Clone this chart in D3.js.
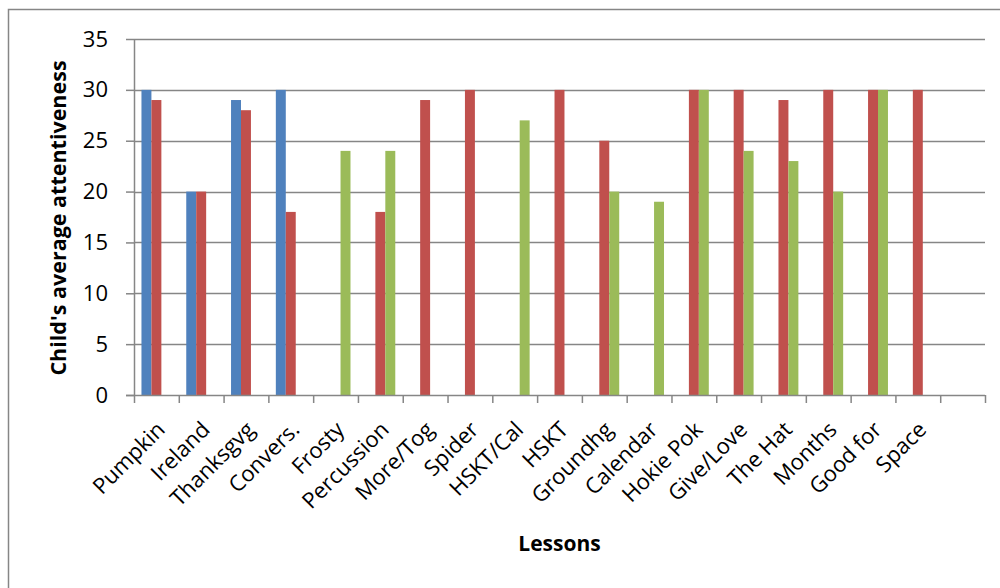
<!DOCTYPE html>
<html>
<head>
<meta charset="utf-8">
<script src="https://cdn.jsdelivr.net/npm/d3@7"></script>
<style>
  body { margin: 0; background: #fff; }
  svg { display: block; }
  text { font-family: "Open Sans", sans-serif; fill: #000; }
</style>
</head>
<body>
<div id="chart"></div>
<script>
var lessons = ["Pumpkin", "Ireland", "Thanksgvg", "Convers.", "Frosty", "Percussion", "More/Tog",
    "Spider", "HSKT/Cal", "HSKT", "Groundhg", "Calendar", "Hokie Pok", "Give/Love", "The Hat",
    "Months", "Good for", "Space", ""];
var seriesNames = ["Series1", "Series2", "Series3"];
var blueValues  = [30, 20, 29, 30, 0, 0, 0, 0, 0, 0, 0, 0, 0, 0, 0, 0, 0, 0, 0];
var redValues   = [29, 20, 28, 18, 0, 18, 29, 30, 0, 30, 25, 0, 30, 30, 29, 30, 30, 30, 0];
var greenValues = [0, 0, 0, 0, 24, 24, 0, 0, 27, 0, 20, 19, 30, 24, 23, 20, 30, 0, 0];
var yTicks = [0, 5, 10, 15, 20, 25, 30, 35];
var colors = ["#4F81BD", "#C0504D", "#9BBB59"];

var width = 1000, height = 588;
var margin = { top: 39, right: 15, bottom: 193, left: 134 },
    plotW = width - margin.left - margin.right,
    plotH = height - margin.top - margin.bottom;

var svg = d3.select("#chart")
    .append("svg")
    .attr("width", width)
    .attr("height", height);

// outer chart border
svg.append("rect")
    .attr("x", 8.5).attr("y", 9.5)
    .attr("width", 1000).attr("height", 600)
    .attr("fill", "none")
    .attr("stroke", "#868686")
    .attr("stroke-width", 1.5);

var g = svg.append("g")
    .attr("transform", "translate(" + margin.left + "," + margin.top + ")");

var x0 = d3.scaleBand().domain(d3.range(lessons.length)).range([0, plotW]).padding(0);
var x1 = d3.scaleBand().domain(seriesNames).range([0, x0.bandwidth()]).paddingInner(0).paddingOuter(0.75);
var y = d3.scaleLinear().domain([0, 35]).range([plotH, 0]);

// gridlines
g.append("g")
    .selectAll("line")
    .data(yTicks.slice(1))
    .enter().append("line")
    .attr("x1", 0).attr("x2", plotW)
    .attr("y1", function (d) { return Math.round(y(d)) + 0.5; })
    .attr("y2", function (d) { return Math.round(y(d)) + 0.5; })
    .attr("stroke", "#868686")
    .attr("stroke-width", 1.5);

// bars (zero values are empty slots)
var data = [blueValues, redValues, greenValues];
data.forEach(function (vals, s) {
    var pts = vals.map(function (v, i) { return { i: i, v: v }; })
        .filter(function (d) { return d.v > 0; });
    g.append("g")
        .selectAll("rect")
        .data(pts)
        .enter().append("rect")
        .attr("x", function (d) { return x0(d.i) + x1(seriesNames[s]); })
        .attr("y", function (d) { return y(d.v); })
        .attr("width", x1.bandwidth())
        .attr("height", function (d) { return plotH - y(d.v); })
        .attr("fill", colors[s]);
});

// y axis
var yAxis = g.append("g")
    .call(d3.axisLeft(y).tickValues(yTicks).tickSize(8).tickPadding(18));
yAxis.select(".domain").attr("stroke", "#868686").attr("stroke-width", 1.5).attr("d", "M0.5,0V" + plotH);
yAxis.selectAll(".tick line").attr("stroke", "#868686").attr("stroke-width", 1.5);
yAxis.selectAll("text").style("font-size", "22px");

// x axis
var xTickPos = d3.range(lessons.length + 1).map(function (i) { return i * x0.step(); });
var xAxisG = g.append("g").attr("transform", "translate(0," + plotH + ")");
xAxisG.append("line")
    .attr("x1", -8).attr("x2", plotW)
    .attr("y1", 0.5).attr("y2", 0.5)
    .attr("stroke", "#868686").attr("stroke-width", 1.5);
xAxisG.selectAll(".xtick")
    .data(xTickPos)
    .enter().append("line")
    .attr("class", "xtick")
    .attr("x1", function (d) { return d + 0.5; })
    .attr("x2", function (d) { return d + 0.5; })
    .attr("y1", 0).attr("y2", 8)
    .attr("stroke", "#868686").attr("stroke-width", 1.5);
xAxisG.selectAll(".xlabel")
    .data(lessons)
    .enter().append("text")
    .attr("class", "xlabel")
    .attr("text-anchor", "end")
    .attr("transform", function (d, i) {
        return "translate(" + (x0(i) + x0.bandwidth() / 2 + 10) + ",36)rotate(-45)";
    })
    .style("font-size", "22px")
    .text(function (d) { return d; });

// axis titles
svg.append("text")
    .attr("transform", "translate(" + 66 + "," + (margin.top + plotH / 2 + 1) + ")rotate(-90)")
    .attr("text-anchor", "middle")
    .style("font-size", "21.5px")
    .style("font-weight", "bold")
    .text("Child's average attentiveness");

svg.append("text")
    .attr("x", margin.left + plotW / 2)
    .attr("y", 551)
    .attr("text-anchor", "middle")
    .style("font-size", "21px")
    .style("font-weight", "bold")
    .text("Lessons");
</script>
</body>
</html>
